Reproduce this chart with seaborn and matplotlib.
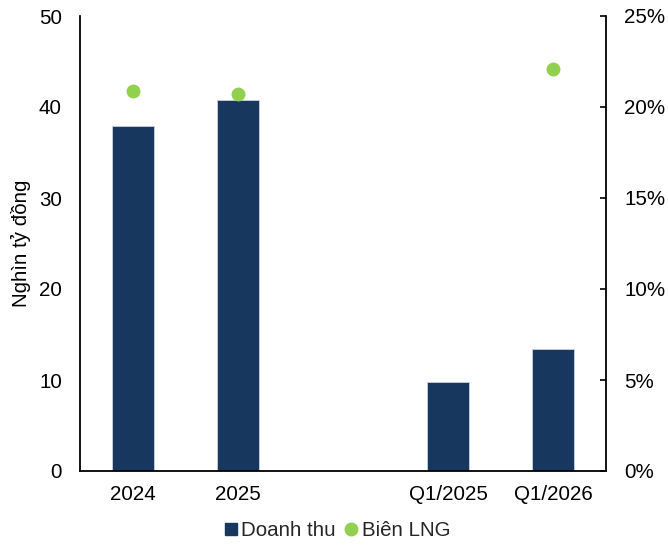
import matplotlib
matplotlib.use("Agg")
import matplotlib.pyplot as plt
from matplotlib.lines import Line2D
import numpy as np
import pandas as pd
import seaborn as sns

# Categories (blank slot separates yearly from quarterly figures)
categories = ["2024", "2025", " ", "Q1/2025", "Q1/2026"]
revenue = [37.9, 40.8, np.nan, 9.8, 13.4]          # Doanh thu, nghìn tỷ đồng
margin = [20.9, 20.7, np.nan, np.nan, 22.1]         # Biên LNG, %

left_ticks = [0, 10, 20, 30, 40, 50]
right_ticks = [0, 5, 10, 15, 20, 25]

NAVY = "#17375E"
GREEN = "#92D050"
FS = 14.8

sns.set_theme(style="white")
plt.rcParams["font.family"] = ["Liberation Sans", "DejaVu Sans"]

df = pd.DataFrame({"cat": categories, "revenue": revenue, "margin": margin})

fig = plt.figure(figsize=(6.68, 5.45), dpi=100)
ax = fig.add_axes([80 / 668, 1 - 471 / 545, (606 - 80) / 668, (471 - 16) / 545])

sns.barplot(data=df, x="cat", y="revenue", order=categories, color=NAVY,
            width=0.4, saturation=1, edgecolor="#c9d3e0", linewidth=0.6, ax=ax)
ax.set_xlim(-0.5, len(categories) - 0.5)
ax.set_ylim(0, 50)
ax.set_yticks(left_ticks)
ax.set_ylabel("Nghìn tỷ đồng", fontsize=FS, labelpad=6, color="black")
ax.set_xlabel("")
ax.tick_params(axis="y", length=0, pad=13, labelsize=FS, colors="black")
ax.tick_params(axis="x", length=0, pad=10, labelsize=FS, colors="black")
for s in ["top", "right"]:
    ax.spines[s].set_visible(False)
for s in ["left", "bottom"]:
    ax.spines[s].set_color("black")
    ax.spines[s].set_linewidth(1.3)

ax2 = ax.twinx()
sns.stripplot(data=df, x="cat", y="margin", order=categories, color=GREEN,
              jitter=False, size=10, linewidth=0, ax=ax2, zorder=5)
ax2.set_xlim(-0.5, len(categories) - 0.5)
ax2.set_ylim(0, 25)
ax2.set_yticks(right_ticks)
ax2.set_yticklabels([f"{t}%" for t in right_ticks])
ax2.set_ylabel("")
ax2.set_xlabel("")
ax2.tick_params(axis="y", direction="in", length=4.5, width=1.2, pad=13,
                labelsize=FS, colors="black", right=True)
for s in ["top", "left", "bottom"]:
    ax2.spines[s].set_visible(False)
ax2.spines["right"].set_color("black")
ax2.spines["right"].set_linewidth(1.3)

handles = [
    Line2D([], [], marker="s", linestyle="none", color=NAVY, markersize=9),
    Line2D([], [], marker="o", linestyle="none", color=GREEN, markersize=9),
]
fig.legend(handles, ["Doanh thu", "Biên LNG"], loc="center",
           bbox_to_anchor=(336 / 668, 1 - 531 / 545), ncol=2, frameon=False,
           fontsize=FS, handletextpad=0.05, columnspacing=0.3, handlelength=0.9,
           borderpad=0)

fig.savefig("out.png", dpi=100)
